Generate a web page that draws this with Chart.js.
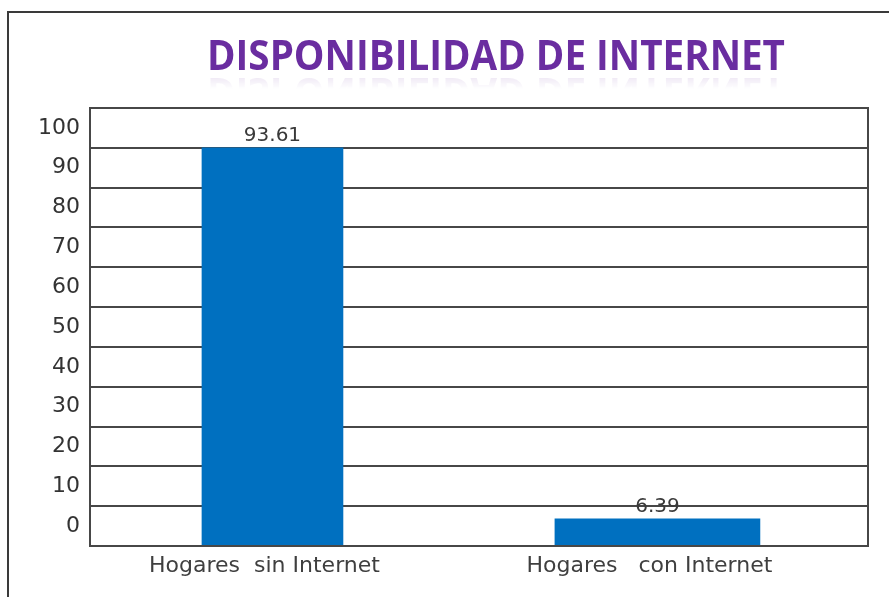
<!DOCTYPE html>
<html>
<head>
<meta charset="utf-8">
<script src="https://cdn.jsdelivr.net/npm/chart.js@4.4.0/dist/chart.umd.min.js"></script>
<style>
  html, body { margin: 0; padding: 0; background: #fff; }
  #wrap { position: relative; width: 889px; height: 597px; overflow: hidden; }
  #frame { position: absolute; left: 7px; top: 11px; width: 900px; height: 600px;
           border-left: 2px solid #3a3a3a; border-top: 2px solid #3a3a3a; }
  #title { position: absolute; top: 33px; left: 496px; margin: 0; white-space: nowrap;
           font: bold 42px/42px "Open Sans", sans-serif; color: #6a2da0;
           transform-origin: center;
           -webkit-box-reflect: below -2px linear-gradient(transparent 62%, rgba(255,255,255,0.14)); }
  canvas { position: absolute; left: 0; top: 0; }
</style>
</head>
<body>
<div id="wrap">
  <div id="frame"></div>
  <canvas id="chart" width="889" height="597"></canvas>
  <h1 id="title"></h1>
</div>
<script>
const titleText = 'DISPONIBILIDAD DE INTERNET';
const categories = ['Hogares  sin Internet', 'Hogares   con Internet'];
const values = [93.61, 6.39];
const yTickLabels = ['0', '10', '20', '30', '40', '50', '60', '70', '80', '90', '100'];
const barWidths = [141, 205];

// title as html text, squeezed to the narrow look of the original
const title = document.getElementById('title');
title.textContent = titleText;
title.style.transform = `translateX(-50%) scaleX(${578 / title.offsetWidth})`;

const lineColor = '#474747';

// frame around the plot area (right side has no axis to draw it)
const plotFrame = {
    id: 'plotFrame',
    afterDraw(chart) {
        const { ctx, chartArea: a } = chart;
        ctx.save();
        ctx.strokeStyle = lineColor;
        ctx.lineWidth = 2;
        ctx.strokeRect(a.left, a.top, a.right - a.left, a.bottom - a.top);
        ctx.restore();
    }
};

// value printed above each bar
const valueLabels = {
    id: 'valueLabels',
    afterDatasetsDraw(chart) {
        const ctx = chart.ctx;
        ctx.save();
        ctx.font = '20px "DejaVu Sans"';
        ctx.fillStyle = '#3a3a3a';
        ctx.textAlign = 'center';
        ctx.textBaseline = 'alphabetic';
        chart.data.datasets.forEach((ds, i) => {
            const bar = chart.getDatasetMeta(i).data[0];
            ctx.fillText(ds.data[0].y.toFixed(2), bar.x, bar.y - 7);
        });
        ctx.restore();
    }
};

new Chart(document.getElementById('chart'), {
    type: 'bar',
    data: {
        datasets: values.map((v, i) => ({
            label: categories[i],
            data: [{ x: i + 1, y: v }],
            backgroundColor: '#0070c0',
            barThickness: barWidths[i],
            grouped: false,
            xAxisID: 'x',
            yAxisID: 'y'
        }))
    },
    options: {
        responsive: false,
        animation: false,
        layout: { padding: { top: 108, right: 21, bottom: 0, left: 0 } },
        plugins: {
            legend: { display: false },
            tooltip: { enabled: false }
        },
        scales: {
            x: {
                type: 'linear',
                offset: false,
                min: 0.526,
                max: 2.547,
                afterBuildTicks: s => { s.ticks = categories.map((c, i) => ({ value: i + 1 })); },
                afterFit: s => { s.height = 51; },
                ticks: {
                    callback: (v, i) => categories[i],
                    color: '#3f3f3f',
                    font: { family: 'DejaVu Sans', size: 22 },
                    padding: 7,
                    labelOffset: -8,
                    maxRotation: 0,
                    autoSkip: false
                },
                grid: { display: false, drawTicks: false },
                border: { display: false }
            },
            y: { min: 0, max: 103, display: false },
            yLabels: {
                position: 'left',
                min: 0,
                max: 11,
                afterBuildTicks: s => { s.ticks = yTickLabels.map((t, i) => ({ value: i + 0.5 })); },
                afterFit: s => { s.width = 90; },
                ticks: {
                    callback: (v, i) => yTickLabels[i],
                    color: '#333',
                    font: { family: 'DejaVu Sans', size: 22 },
                    padding: 10,
                    autoSkip: false
                },
                grid: { display: false, drawTicks: false },
                border: { display: false }
            },
            yGrid: {
                position: 'left',
                min: 0,
                max: 11,
                ticks: { display: false, count: 12 },
                grid: { color: lineColor, lineWidth: 2, drawTicks: false },
                border: { display: false }
            }
        }
    },
    plugins: [plotFrame, valueLabels]
});
</script>
</body>
</html>
